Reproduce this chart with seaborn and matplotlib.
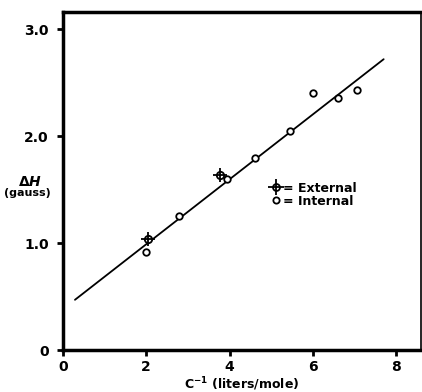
import numpy as np
import pandas as pd
import matplotlib
matplotlib.use("Agg")
import matplotlib.pyplot as plt
from matplotlib.lines import Line2D
from matplotlib.legend_handler import HandlerTuple
import seaborn as sns

# Data
internal_x = [2.0, 2.79, 3.94, 4.61, 5.44, 6.0, 6.6, 7.05]
internal_y = [0.92, 1.25, 1.60, 1.80, 2.05, 2.40, 2.36, 2.43]
external_x = [2.05, 3.76]
external_y = [1.04, 1.635]
fit_x = [0.29, 7.70]
fit_y = [0.47, 2.72]
x_ticks = [0, 2, 4, 6, 8]
y_ticks = [0, 1.0, 2.0, 3.0]
y_ticklabels = ["0", "1.0", "2.0", "3.0"]

sns.set_style("ticks")
plt.rcParams['font.family'] = ['DejaVu Sans']
plt.rcParams['font.weight'] = 'bold'
plt.rcParams['text.color'] = 'black'
plt.rcParams['xtick.color'] = 'black'
plt.rcParams['ytick.color'] = 'black'
plt.rcParams['axes.labelcolor'] = 'black'

fig = plt.figure(figsize=(4.22, 3.92), dpi=100)
ax = fig.add_axes([0.149, 0.107, 0.849, 0.862])

df_int = pd.DataFrame({"x": internal_x, "y": internal_y})
df_ext = pd.DataFrame({"x": external_x, "y": external_y})
df_fit = pd.DataFrame({"x": fit_x, "y": fit_y})

sns.lineplot(data=df_fit, x="x", y="y", ax=ax, color="black", lw=1.3)
sns.scatterplot(data=df_int, x="x", y="y", ax=ax, marker="o", s=22,
                facecolor="white", edgecolor="black", linewidth=1.3, zorder=3)
sns.scatterplot(data=df_ext, x="x", y="y", ax=ax, marker="o", s=28,
                facecolor="white", edgecolor="black", linewidth=1.3, zorder=4)
sns.scatterplot(data=df_ext, x="x", y="y", ax=ax, marker="+", s=110,
                color="black", linewidth=1.3, zorder=5)

ax.set_xlim(0, 8.6)
ax.set_ylim(0, 3.16)
ax.set_xticks(x_ticks)
ax.set_xticklabels([str(t) for t in x_ticks], fontsize=10, fontweight='bold')
ax.set_yticks(y_ticks)
ax.set_yticklabels(y_ticklabels, fontsize=10, fontweight='bold')
ax.tick_params(axis='x', direction='out', length=4, width=2, pad=3)
ax.tick_params(axis='y', direction='out', length=4, width=2, pad=6)

for side in ['left', 'bottom', 'top']:
    ax.spines[side].set_linewidth(2.5)
ax.spines['right'].set_linewidth(1.2)
for s in ax.spines.values():
    s.set_visible(True)
    s.set_color("black")

ax.set_xlabel(r"C$^{\mathbf{-1}}$ (liters/mole)", fontsize=9, fontweight='bold', labelpad=1)
ax.set_ylabel("")
fig.text(0.072, 0.536, r"$\Delta$$\mathit{H}$", ha='center', va='center', fontsize=10, fontweight='bold')
fig.text(0.066, 0.507, "(gauss)", ha='center', va='center', fontsize=8, fontweight='bold')

h_ext = (Line2D([], [], marker='o', ls='none', mfc='white', mec='black', ms=5, mew=1.3),
         Line2D([], [], marker='+', ls='none', color='black', ms=11, mew=1.3))
h_int = Line2D([], [], marker='o', ls='none', mfc='white', mec='black', ms=4.5, mew=1.3)
ax.legend([h_ext, h_int], ["= External", "= Internal"],
          handler_map={tuple: HandlerTuple(ndivide=1, pad=0)},
          loc='center left', bbox_to_anchor=(0.545, 0.46), frameon=False,
          handlelength=1.0, handletextpad=0.1, labelspacing=0.0,
          prop={'weight': 'bold', 'size': 9})

fig.savefig("out.png", dpi=100, facecolor="white")
